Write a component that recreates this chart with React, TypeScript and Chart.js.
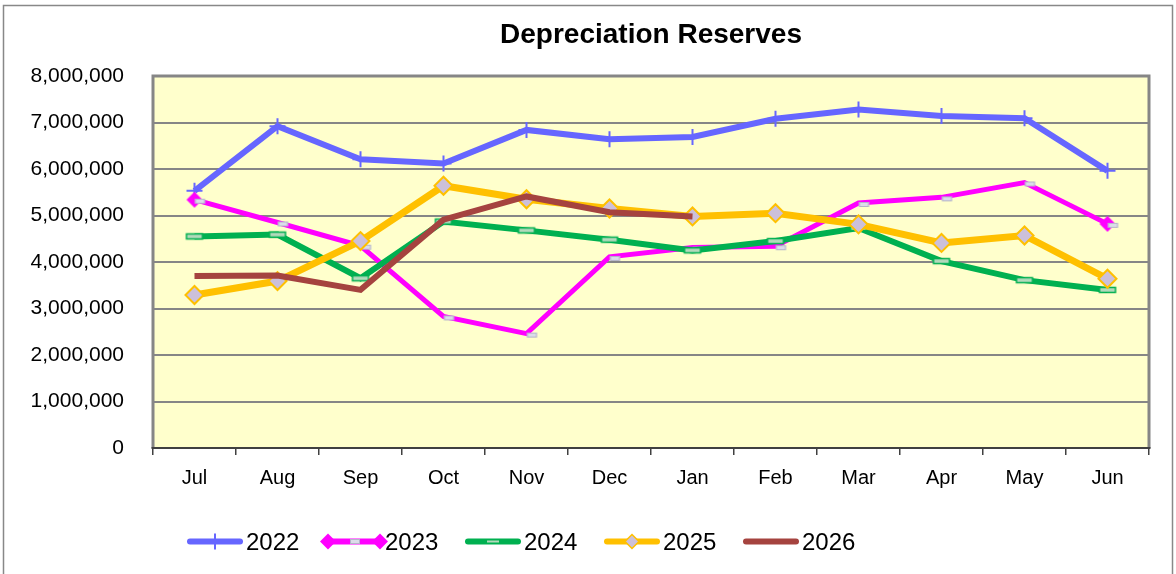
import { useEffect, useRef } from 'react';
import { Chart, registerables } from 'chart.js';

Chart.register(...registerables);

// ---- data ----
const months = ['Jul', 'Aug', 'Sep', 'Oct', 'Nov', 'Dec', 'Jan', 'Feb', 'Mar', 'Apr', 'May', 'Jun'];
const seriesNames = ['2022', '2023', '2024', '2025', '2026'];
const values2022 = [5530000, 6920000, 6210000, 6120000, 6840000, 6640000, 6690000, 7080000, 7280000, 7140000, 7090000, 5960000];
const values2023 = [5340000, 4850000, 4350000, 2830000, 2460000, 4110000, 4310000, 4340000, 5270000, 5390000, 5710000, 4820000];
const values2024 = [4550000, 4590000, 3650000, 4870000, 4680000, 4480000, 4250000, 4450000, 4730000, 4020000, 3610000, 3400000];
const values2025 = [3290000, 3590000, 4450000, 5640000, 5350000, 5150000, 4980000, 5050000, 4810000, 4410000, 4570000, 3640000];
const values2026 = [3700000, 3710000, 3400000, 4910000, 5410000, 5070000, 4980000, null, null, null, null, null];
const yTickValues = [0, 1000000, 2000000, 3000000, 4000000, 5000000, 6000000, 7000000, 8000000];
const chartTitle = 'Depreciation Reserves';

// ---- styles ----
const FONT = '"Liberation Sans", Arial, Helvetica, sans-serif';
const colors = ['#6666FF', '#FF00FF', '#00B050', '#FFC000', '#A5433F'];
const GRID = '#868686';
const AXIS_DARK = '#404040';

function makeCanvas(w: number, h: number) {
  const c = document.createElement('canvas');
  c.width = w;
  c.height = h;
  return c;
}

function drawDash23(ctx: CanvasRenderingContext2D, x: number, y: number) {
  ctx.fillStyle = '#DCDCEA';
  ctx.fillRect(x, y, 10, 5);
  ctx.strokeStyle = '#B4B4C8';
  ctx.lineWidth = 1;
  ctx.strokeRect(x + 0.5, y + 0.5, 9, 4);
}

function makeMarkers() {
  const dash23 = makeCanvas(30, 16);
  drawDash23(dash23.getContext('2d')!, 15.5, 7);

  const end23 = makeCanvas(30, 30);
  {
    const c = end23.getContext('2d')!;
    c.fillStyle = '#FF00FF';
    c.beginPath();
    c.moveTo(15, 7);
    c.lineTo(23, 15);
    c.lineTo(15, 23);
    c.lineTo(7, 15);
    c.closePath();
    c.fill();
    drawDash23(c, 15.5, 14);
  }

  const dash24 = makeCanvas(20, 10);
  {
    const c = dash24.getContext('2d')!;
    c.fillStyle = '#B4D9BC';
    c.fillRect(2, 2.5, 16, 5);
    c.strokeStyle = '#00B050';
    c.lineWidth = 1.5;
    c.strokeRect(2, 2.5, 16, 5);
  }
  return { dash23, end23, dash24 };
}

function diamond(ctx: CanvasRenderingContext2D, x: number, y: number, r: number, fill: string, stroke: string | null, lw = 2) {
  ctx.beginPath();
  ctx.moveTo(x, y - r);
  ctx.lineTo(x + r, y);
  ctx.lineTo(x, y + r);
  ctx.lineTo(x - r, y);
  ctx.closePath();
  ctx.fillStyle = fill;
  ctx.fill();
  if (stroke) {
    ctx.strokeStyle = stroke;
    ctx.lineWidth = lw;
    ctx.stroke();
  }
}

const framePlugin = {
  id: 'frame',
  beforeDraw(chart: any) {
    const { ctx, chartArea } = chart;
    ctx.save();
    ctx.fillStyle = '#FFFFFF';
    ctx.fillRect(0, 0, chart.width, chart.height);
    ctx.strokeStyle = '#888888';
    ctx.lineWidth = 1.5;
    ctx.strokeRect(3.5, 5.5, 1169, 620);
    ctx.fillStyle = '#FFFFCC';
    ctx.fillRect(chartArea.left, chartArea.top, chartArea.right - chartArea.left, chartArea.bottom - chartArea.top);
    ctx.restore();
  },
  beforeDatasetsDraw(chart: any) {
    const { ctx, chartArea } = chart;
    const { left, top, right, bottom } = chartArea;
    ctx.save();
    ctx.strokeStyle = GRID;
    ctx.lineWidth = 3;
    ctx.beginPath();
    ctx.moveTo(left, bottom);
    ctx.lineTo(left, top);
    ctx.lineTo(right, top);
    ctx.lineTo(right, bottom);
    ctx.stroke();
    ctx.strokeStyle = AXIS_DARK;
    ctx.lineWidth = 2;
    ctx.beginPath();
    ctx.moveTo(left - 1.5, bottom);
    ctx.lineTo(right + 1.5, bottom);
    ctx.stroke();
    ctx.restore();
  },
  afterDraw(chart: any) {
    const { ctx, chartArea } = chart;
    ctx.save();
    // title
    ctx.fillStyle = '#000000';
    ctx.font = `bold 28px ${FONT}`;
    ctx.textAlign = 'center';
    ctx.textBaseline = 'alphabetic';
    ctx.fillText(chartTitle, (chartArea.left + chartArea.right) / 2, 43);

    // legend
    const startX = 187;
    const step = 139;
    const cy = 541.5;
    const sw = 56;
    chart.data.datasets.forEach((ds: any, i: number) => {
      const x0 = startX + i * step;
      const col = ds.borderColor;
      ctx.strokeStyle = col;
      ctx.lineWidth = 6;
      ctx.lineCap = 'round';
      ctx.beginPath();
      ctx.moveTo(x0 + 3, cy);
      ctx.lineTo(x0 + sw - 3, cy);
      ctx.stroke();
      ctx.lineCap = 'butt';
      const mx = x0 + sw / 2;
      if (i === 0) {
        ctx.lineWidth = 2;
        ctx.beginPath();
        ctx.moveTo(mx, cy - 8);
        ctx.lineTo(mx, cy + 8);
        ctx.stroke();
      } else if (i === 1) {
        diamond(ctx, x0 + 2, cy, 8, col, null);
        diamond(ctx, x0 + sw - 2, cy, 8, col, null);
        drawDash23(ctx, mx - 4, cy - 2.5);
      } else if (i === 2) {
        ctx.fillStyle = '#B4D9BC';
        ctx.fillRect(mx - 6, cy - 1, 12, 2);
      } else if (i === 3) {
        diamond(ctx, mx, cy, 7, '#CCC0DA', col, 1.5);
      }
      ctx.fillStyle = '#000000';
      ctx.font = `24px ${FONT}`;
      ctx.textAlign = 'left';
      ctx.textBaseline = 'alphabetic';
      ctx.fillText(ds.label, x0 + 59, 550);
    });
    ctx.restore();
  },
};

export default function App() {
  const ref = useRef<HTMLCanvasElement | null>(null);

  useEffect(() => {
    if (!ref.current) return;
    const m = makeMarkers();
    const styles23 = values2023.map((_, i) => (i === 0 || i === values2023.length - 1 ? m.end23 : m.dash23));
    const chart = new Chart(ref.current, {
      type: 'line',
      data: {
        labels: months,
        datasets: [
          {
            label: seriesNames[0],
            data: values2022,
            borderColor: colors[0],
            backgroundColor: colors[0],
            borderWidth: 6,
            pointStyle: 'cross',
            pointRadius: 8,
            pointBorderWidth: 2,
            pointBorderColor: colors[0],
            order: 4,
          },
          {
            label: seriesNames[1],
            data: values2023,
            borderColor: colors[1],
            backgroundColor: colors[1],
            borderWidth: 5,
            pointStyle: styles23 as any,
            pointRadius: 5,
            order: 3,
          },
          {
            label: seriesNames[2],
            data: values2024,
            borderColor: colors[2],
            backgroundColor: colors[2],
            borderWidth: 6,
            pointStyle: m.dash24 as any,
            pointRadius: 5,
            order: 2,
          },
          {
            label: seriesNames[3],
            data: values2025,
            borderColor: colors[3],
            backgroundColor: '#CCC0DA',
            borderWidth: 7,
            pointStyle: 'rectRot',
            pointRadius: 9,
            pointBackgroundColor: '#CCC0DA',
            pointBorderColor: colors[3],
            pointBorderWidth: 2,
            order: 1,
          },
          {
            label: seriesNames[4],
            data: values2026,
            borderColor: colors[4],
            backgroundColor: colors[4],
            borderWidth: 6,
            borderCapStyle: 'butt',
            pointRadius: 0,
            spanGaps: false,
            order: 0,
          },
        ] as any,
      },
      options: {
        responsive: false,
        animation: false,
        devicePixelRatio: 1,
        layout: { padding: { top: 76, right: 27, left: 0, bottom: 0 } },
        plugins: {
          legend: { display: false },
          title: { display: false },
          tooltip: { enabled: false },
        },
        elements: { line: { tension: 0 } },
        scales: {
          x: {
            offset: true,
            grid: {
              offset: true,
              drawOnChartArea: false,
              drawTicks: true,
              tickLength: 7,
              color: AXIS_DARK,
              lineWidth: 1.5,
            },
            border: { display: false },
            ticks: {
              color: '#000000',
              font: { family: FONT, size: 20 },
              padding: 11,
              maxRotation: 0,
              autoSkip: false,
            },
            afterFit: (s: any) => {
              s.height = 126;
            },
          },
          y: {
            min: yTickValues[0],
            max: yTickValues[yTickValues.length - 1],
            afterBuildTicks: (s: any) => {
              s.ticks = yTickValues.map((v) => ({ value: v }));
            },
            grid: {
              color: GRID,
              lineWidth: 2,
              drawTicks: false,
              tickLength: 0,
            },
            border: { display: false },
            ticks: {
              color: '#000000',
              font: { family: FONT, size: 21 },
              padding: 29,
              callback: (v: any) => Number(v).toLocaleString('en-US'),
            },
            afterFit: (s: any) => {
              s.width = 153;
            },
          },
        },
      },
      plugins: [framePlugin],
    });
    return () => chart.destroy();
  }, []);

  return (
    <div style={{ position: 'fixed', left: 0, top: 0, width: 1176, height: 574, background: '#fff' }}>
      <canvas ref={ref} width={1176} height={574} style={{ display: 'block', width: 1176, height: 574 }} />
    </div>
  );
}
